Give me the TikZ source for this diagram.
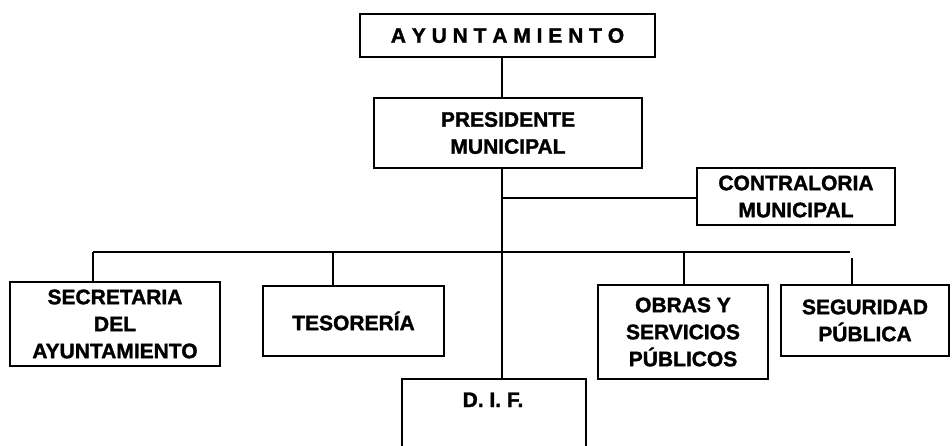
\documentclass[tikz,border=0pt]{standalone}
\usepackage{fontspec}
\setmainfont{Liberation Sans}[BoldFeatures={FakeBold=1.5}]
\usepackage{tikz}
\usetikzlibrary{positioning, calc}

\begin{document}
\begin{tikzpicture}[
    x=1pt, y=-1pt,
    unit/.style={
        rectangle, draw=black, line width=1.6pt, inner sep=0pt, align=center,
        font=\fontsize{21}{27}\selectfont\bfseries
    },
    label/.style={
        inner sep=0pt, font=\fontsize{21}{27}\selectfont\bfseries
    },
    link/.style={
        draw=black, line width=1.6pt
    }
]
\useasboundingbox (0,0) rectangle (952,445);

% Top of the chart
\node[unit, minimum width=295pt, minimum height=43pt] (ayto) at (507.5,35.5) {A Y U N T A M I E N T O};
\node[unit, minimum width=268pt, minimum height=70pt] (pres) at (508,133) {PRESIDENTE\\MUNICIPAL};

% Staff office (right of the spine)
\node[unit, minimum width=198pt, minimum height=57pt] (contr) at (796,196.5) {CONTRALORIA\\MUNICIPAL};

% Departments
\node[unit, minimum width=210pt, minimum height=84pt] (sec) at (115,324) {SECRETARIA\\DEL\\AYUNTAMIENTO};
\node[unit, minimum width=181pt, minimum height=70pt] (tes) at (353.5,321) {TESORERÍA};
\node[unit, minimum width=170pt, minimum height=94pt] (obras) at (683,332) {OBRAS Y\\SERVICIOS\\PÚBLICOS};
\node[unit, minimum width=168pt, minimum height=71pt] (seg) at (865,320.5) {SEGURIDAD\\PÚBLICA};

% D.I.F. (open at the bottom)
\node[unit, draw=none, minimum width=182pt, minimum height=66pt, anchor=north] (dif) at (494,379) {};
\node[label, anchor=base] (diftxt) at (493,407) {D. I. F.};
\draw[link] (dif.south west) -- (dif.north west) -- (dif.north east) -- (dif.south east);

% Connections
\coordinate (hub) at (502,198);
\coordinate (dsec) at (93,252);
\coordinate (dtes) at (333,252);
\coordinate (dobras) at (684,252);
\coordinate (busend) at (850,252);
\coordinate (dseg) at (852,258);

\draw[link] (hub |- ayto.south) -- (hub |- pres.north);
\draw[link] (hub |- pres.south) -- (hub |- dif.north);
\draw[link] (hub) -- (hub -| contr.west);
\draw[link] (dsec) -- (busend);
\draw[link] (dsec) -- (dsec |- sec.north);
\draw[link] (dtes) -- (dtes |- tes.north);
\draw[link] (dobras) -- (dobras |- obras.north);
\draw[link] (dseg) -- (dseg |- seg.north);

\end{tikzpicture}
\end{document}
